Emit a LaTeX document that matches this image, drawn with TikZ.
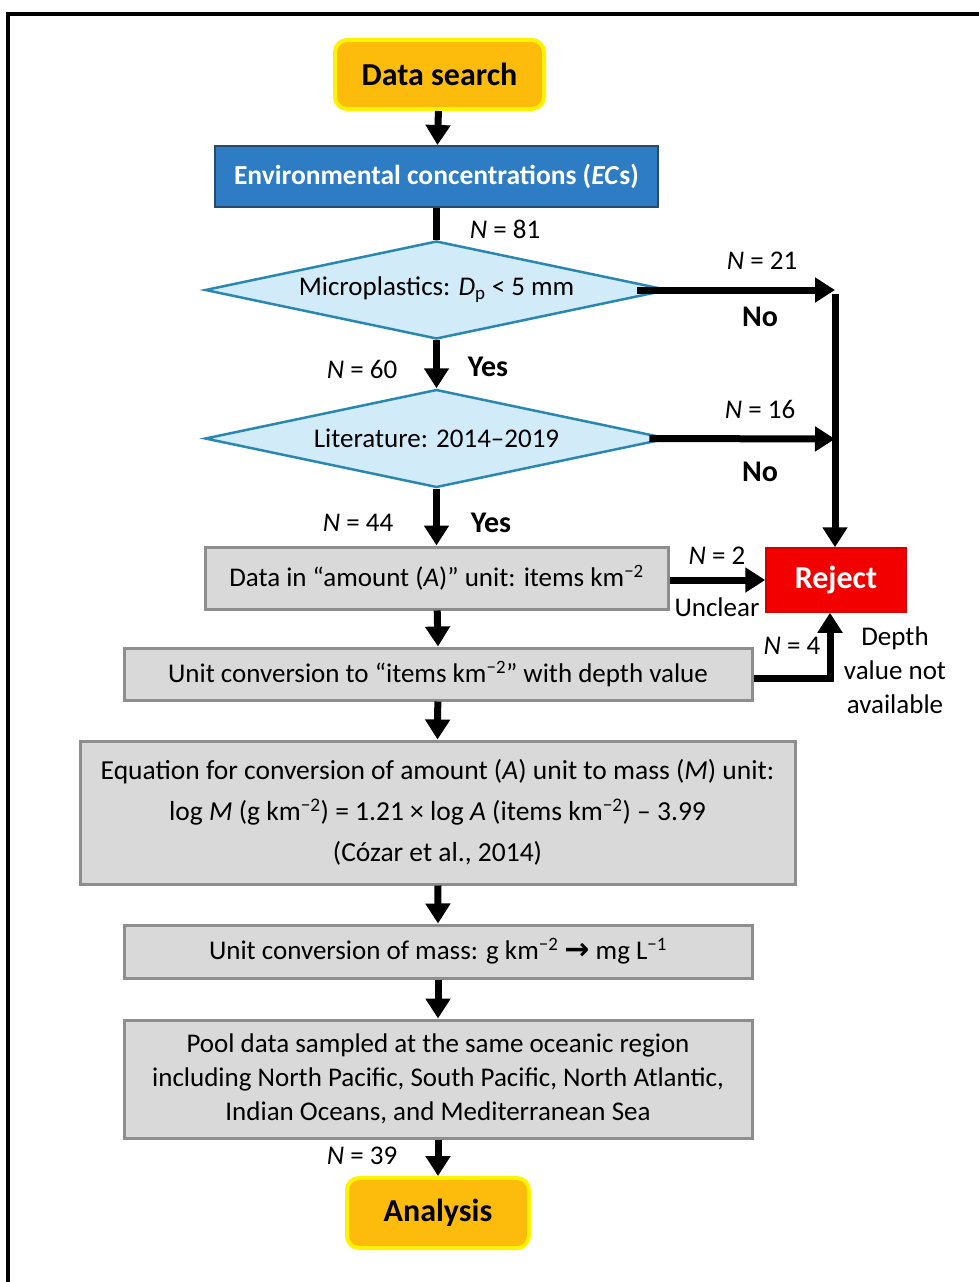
\documentclass[tikz,border=0pt]{standalone}
\usepackage{fontspec}
\setmainfont{Carlito}
\newfontfamily\djv{DejaVu Sans}
\usetikzlibrary{shapes.geometric,arrows.meta}
\definecolor{termfill}{HTML}{FDBC0C}
\definecolor{termline}{HTML}{FFF200}
\definecolor{ecfill}{HTML}{2E7DC4}
\definecolor{ecline}{HTML}{2A4A6A}
\definecolor{dfill}{HTML}{D2EBF8}
\definecolor{dline}{HTML}{2A88B0}
\definecolor{gfill}{HTML}{D9D9D9}
\definecolor{gline}{HTML}{8E8E8E}
\definecolor{rfill}{HTML}{F20000}
\definecolor{rline}{HTML}{D40000}
\newcommand{\sq}[1]{\textsuperscript{−#1}}
\tikzset{
  every node/.style={font=\fontsize{27}{32}\selectfont, inner sep=0pt},
  term/.style={rectangle, rounded corners=12pt, fill=termfill, draw=termline, line width=4pt, font=\fontsize{32}{38}\selectfont\bfseries},
  ecbox/.style={rectangle, fill=ecfill, draw=ecline, line width=2pt, text=white, font=\fontsize{27.5}{33}\selectfont\bfseries},
  dec/.style={diamond, shape aspect=4.7, fill=dfill, draw=dline, line width=2.5pt},
  gbox/.style={rectangle, fill=gfill, draw=gline, line width=3pt, align=center},
  rej/.style={rectangle, fill=rfill, draw=rline, line width=1.5pt, text=white, font=\fontsize{32}{38}\selectfont\bfseries},
  flow/.style={line width=7pt, -{Triangle[length=20pt,width=24pt]}},
  plain/.style={line width=7pt},
  lbl/.style={font=\fontsize{27}{32}\selectfont},
  blbl/.style={font=\fontsize{30}{35}\selectfont\bfseries},
}
\begin{document}
\begin{tikzpicture}[x=1pt,y=-1pt]
\useasboundingbox (0,0) rectangle (979,1282);
\clip (0,0) rectangle (979,1282);
\fill[white] (0,0) rectangle (979,1282);
\draw[line width=4pt] (8,1300) -- (8,14) -- (1000,14);

\node[term, minimum width=209pt, minimum height=69pt] (ds) at (439.5,74.5) {Data search};
\node[ecbox, minimum width=443pt, minimum height=61pt] (ec) at (436.5,176.5) {Environmental concentrations (\textit{EC}s)};
\node[dec, minimum width=463pt, minimum height=98pt] (d1) at (436.5,290) {Microplastics: \textit{D}\textsubscript{p} < 5 mm};
\node[dec, minimum width=463pt, minimum height=98pt] (d2) at (436.5,438.5) {Literature: 2014–2019};
\node[gbox, minimum width=463pt, minimum height=62pt] (b3) at (436.5,578) {Data in “amount (\textit{A})” unit: items km\sq{2}};
\node[rej, minimum width=140pt, minimum height=64pt] (rj) at (836,580) {Reject};
\node[gbox, minimum width=628pt, minimum height=52pt] (b4) at (438,674) {Unit conversion to “items km\sq{2}” with depth value};
\node[gbox, minimum width=715pt, minimum height=143pt, font=\fontsize{27.5}{41}\selectfont] (b5) at (437.5,812.5) {Equation for conversion of amount (\textit{A}) unit to mass (\textit{M}) unit:\\log \textit{M} (g km\sq{2}) = 1.21 × log \textit{A} (items km\sq{2}) – 3.99\\(Cózar et al., 2014)};
\node[gbox, minimum width=628pt, minimum height=53pt] (b6) at (438,951.5) {Unit conversion of mass: g km\sq{2} {\djv\bfseries\fontsize{30}{30}\selectfont →} mg L\sq{1}};
\node[gbox, minimum width=628pt, minimum height=118pt, font=\fontsize{27}{34}\selectfont] (b7) at (438,1079) {Pool data sampled at the same oceanic region\\including North Pacific, South Pacific, North Atlantic,\\Indian Oceans, and Mediterranean Sea};
\node[term, minimum width=182pt, minimum height=70pt] (an) at (438,1213) {Analysis};

\coordinate (c1) at (835,290);
\coordinate (c2) at (835,439);
\coordinate (k4) at (830,678);

\draw[flow] (ds) -- (ec);
\draw[plain] (ec) -- (d1.north);
\draw[flow] (d1) -- (d2.north);
\draw[flow] (d2) -- (b3.north);
\draw[flow] (b3) -- (b4.north);
\draw[flow] (b4) -- (b5.north);
\draw[flow] (b5) -- (b6.north);
\draw[flow] (b6) -- (b7.north);
\draw[flow] (b7) -- (an.north);

\draw[flow] ([xshift=-32pt]d1.east) -- (c1);
\draw[flow] ([xshift=-20pt]d2.east) -- (c2);
\draw[line width=7pt] ([yshift=-3.5pt]c1) -- (c2);
\draw[flow] (c2) -- (c2 |- rj.north);
\draw[flow] (b3.east |- rj.west) -- (rj.west);
\draw[line width=7pt, line join=miter, -{Triangle[length=20pt,width=24pt]}] (b4.east |- k4) -- (k4) -- (k4 |- rj.south);

\node[lbl] (n81) at (505,229) {\textit{N} = 81};
\node[lbl] (n21) at (762,261) {\textit{N} = 21};
\node[blbl] (no1) at (760,317) {No};
\node[lbl] (n60) at (362,369) {\textit{N} = 60};
\node[blbl] (y1) at (488,367) {Yes};
\node[lbl] (n16) at (760,409) {\textit{N} = 16};
\node[blbl] (no2) at (760,472) {No};
\node[lbl] (n44) at (358,523) {\textit{N} = 44};
\node[blbl] (y2) at (491,523) {Yes};
\node[lbl] (n2) at (717,556) {\textit{N} = 2};
\node[lbl] (unc) at (717,607) {Unclear};
\node[lbl] (n4) at (792,646) {\textit{N} = 4};
\node[lbl, align=center, font=\fontsize{27}{34}\selectfont] (dep) at (895,670) {Depth\\value not\\available};
\node[lbl] (n39) at (362,1156) {\textit{N} = 39};
\end{tikzpicture}
\end{document}
